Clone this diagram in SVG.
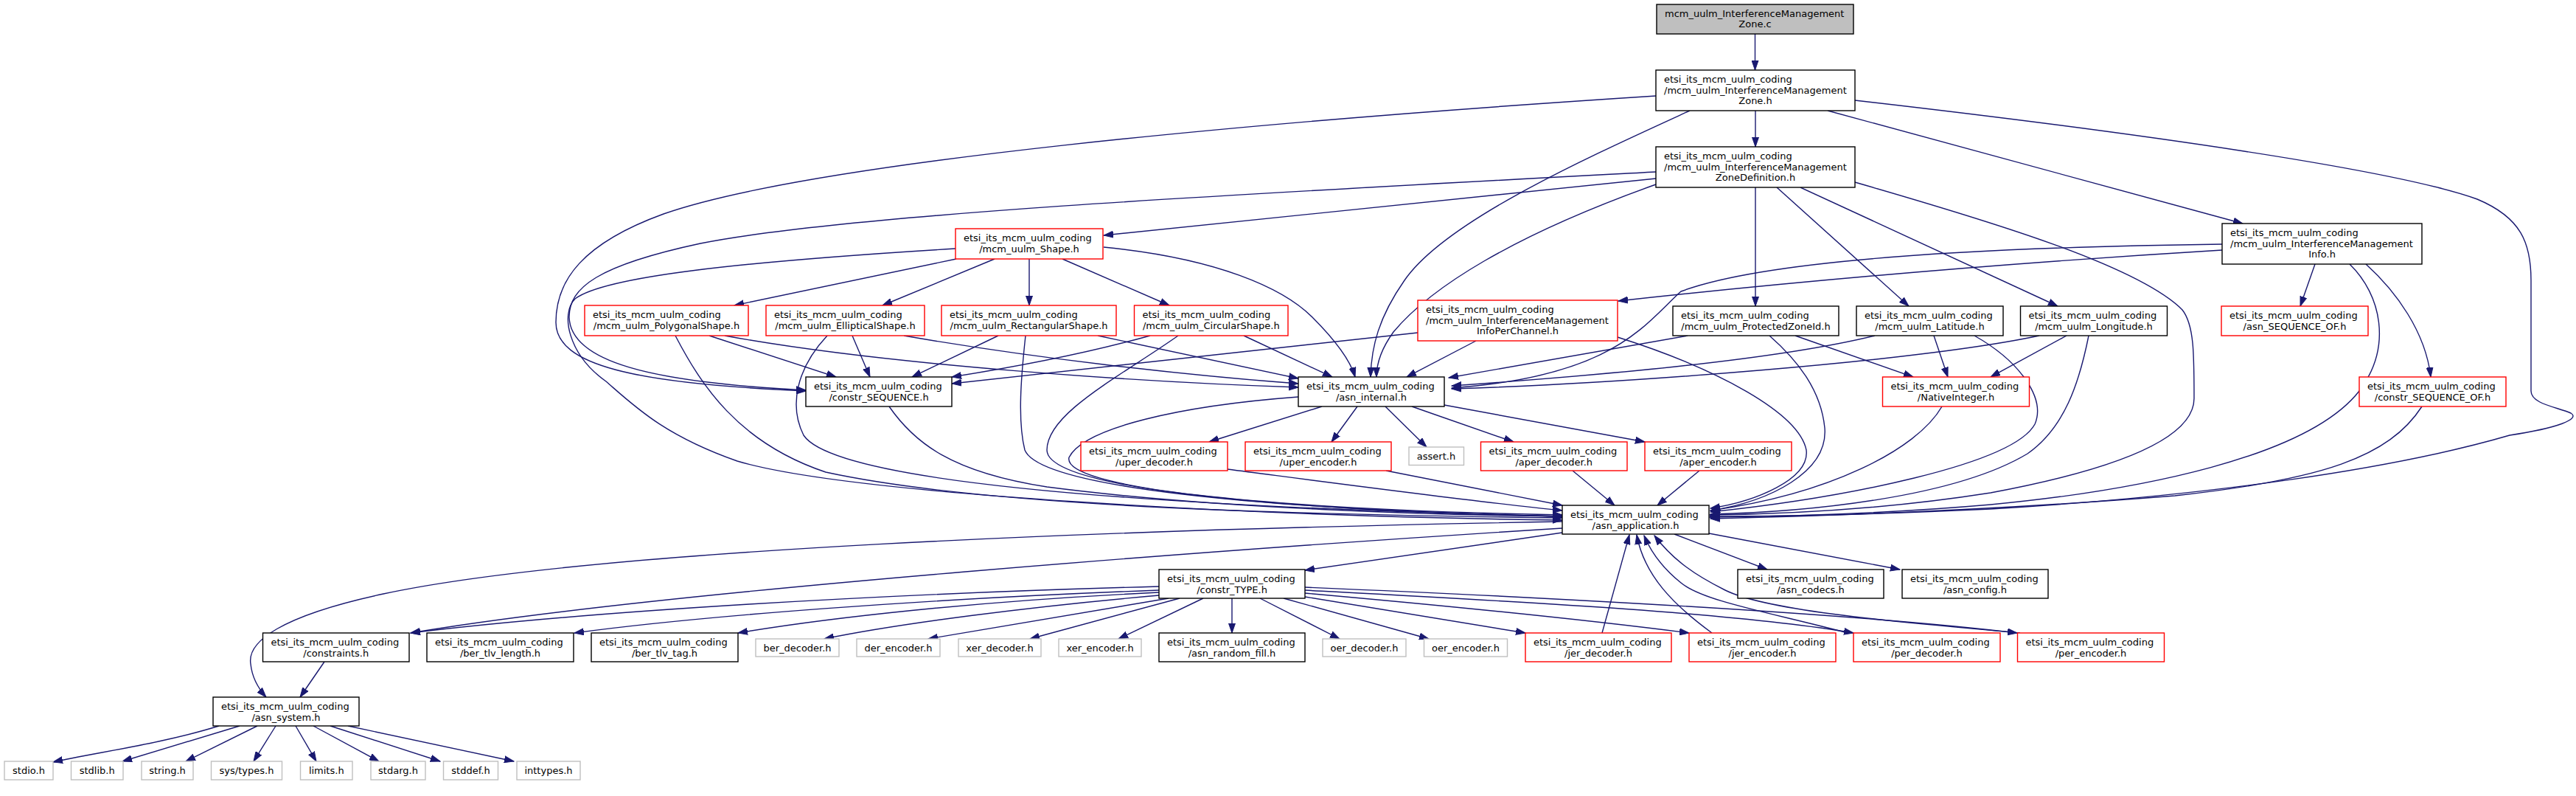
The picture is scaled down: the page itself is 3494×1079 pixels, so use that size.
<svg xmlns="http://www.w3.org/2000/svg" width="3494" height="1079" viewBox="0 0 3494 1079">
<style>
rect{fill:#ffffff;stroke:#000000;stroke-width:1.4}
rect.r{stroke:#ff0000}
rect.g{stroke:#bfbfbf}
rect.top{fill:#bfbfbf}
text{font-family:"DejaVu Sans","Liberation Sans",sans-serif;font-size:13px;fill:#000000}
text.c{text-anchor:middle}
#edges path{fill:none;stroke:#191970;stroke-width:1.4;marker-end:url(#a)}
</style>
<defs>
<marker id="a" markerWidth="14" markerHeight="10" refX="13" refY="5" orient="auto" markerUnits="userSpaceOnUse"><path d="M0,0.5 L13,5 L0,9.5 z" fill="#191970" stroke="#191970" stroke-width="1"/></marker>
</defs>
<rect x="0" y="0" width="3494" height="1079" style="fill:#ffffff;stroke:none"/>
<g id="edges">
<path d="M2380.5,46 L2380.5,95"/>
<path d="M2381,150 L2381,199"/>
<path d="M2479,150 L3042,303"/>
<path d="M2516,136 C2900,180 3250,230 3360,270 C3420,295 3433,330 3433,380 L3433,530 C3433,548 3470,552 3487,560 C3500,568 3470,580 3404,590 C3250,635 3000,672 2700,690 C2550,697 2400,700 2319,700"/>
<path d="M2292,150 C2150,215 1960,300 1905,380 C1870,430 1860,470 1859,511"/>
<path d="M2246,130 C1700,165 1100,220 900,290 C790,330 754,380 754,437 C754,495 860,520 1093,530"/>
<path d="M2246,233 C1700,262 1150,290 950,330 C810,360 772,390 772,430 C774,490 880,518 1093,529"/>
<path d="M2246,242 L1497,319"/>
<path d="M2246,250 C2050,320 1940,390 1890,450 C1872,475 1867,495 1867,511"/>
<path d="M2381,254 L2381,415"/>
<path d="M2410,254 L2589,415"/>
<path d="M2442,254 L2791,415"/>
<path d="M2516,247 C2700,300 2900,360 2960,420 C2976,440 2976,480 2976,540 C2976,600 2850,640 2700,668 C2560,690 2420,697 2319,698"/>
<path d="M3014,331 C2700,335 2400,350 2280,395 C2230,440 2190,510 1969,526"/>
<path d="M3014,339 C2750,355 2450,380 2195,408"/>
<path d="M3140,358 L3120,415"/>
<path d="M3209,358 C3250,395 3290,450 3297,511"/>
<path d="M3187,358 C3230,400 3245,470 3200,530 C3130,620 2900,665 2700,684 C2550,697 2420,700 2319,701"/>
<path d="M1297,351 L996,414"/>
<path d="M1349,351 L1197,414"/>
<path d="M1396,351 L1396,414"/>
<path d="M1441,351 L1586,414"/>
<path d="M1497,335 C1650,350 1740,390 1780,430 C1815,465 1832,490 1838,511"/>
<path d="M1296,337 C1000,355 820,375 780,405 C760,425 770,480 822,517 C860,550 900,590 1000,625 C1150,670 1700,700 2119,705"/>
<path d="M962,455 L1134,511"/>
<path d="M983,455 C1200,495 1550,518 1761,525"/>
<path d="M916,455 C950,520 1000,600 1120,640 C1350,690 1800,698 2119,702"/>
<path d="M1156,455 L1180,511"/>
<path d="M1226,455 C1400,485 1600,508 1761,520"/>
<path d="M1122,455 C1080,500 1070,550 1090,590 C1130,650 1500,685 2119,700"/>
<path d="M1354,455 L1237,511"/>
<path d="M1489,455 L1761,513"/>
<path d="M1391,455 C1385,510 1380,570 1390,610 C1410,660 1700,690 2119,700"/>
<path d="M1560,455 C1470,480 1380,497 1291,511"/>
<path d="M1687,455 L1807,511"/>
<path d="M1598,455 C1520,510 1420,560 1420,610 C1420,660 1700,690 2119,700"/>
<path d="M1923,451 C1700,475 1450,503 1291,520"/>
<path d="M2002,462 L1908,511"/>
<path d="M2194,457 C2330,500 2440,560 2450,610 C2455,650 2380,680 2320,689"/>
<path d="M2289,455 L1965,512"/>
<path d="M2435,455 L2595,511"/>
<path d="M2400,455 C2440,490 2470,530 2475,580 C2480,640 2400,680 2320,692"/>
<path d="M2543,455 C2400,490 2150,510 1969,523"/>
<path d="M2623,455 L2642,511"/>
<path d="M2678,455 C2740,490 2775,540 2760,575 C2730,630 2500,675 2320,694"/>
<path d="M2766,455 C2600,490 2200,520 1969,527"/>
<path d="M2803,455 L2700,511"/>
<path d="M2833,455 C2820,520 2800,580 2750,615 C2650,675 2450,694 2320,697"/>
<path d="M2634,551 C2600,610 2480,670 2320,692"/>
<path d="M3285,551 C3240,620 3150,650 2950,672 C2700,692 2450,700 2320,703"/>
<path d="M1206,551 C1240,600 1290,640 1420,660 C1650,690 1950,698 2119,700"/>
<path d="M1793,551 L1640,599"/>
<path d="M1841,551 L1806,599"/>
<path d="M1879,551 L1935,606"/>
<path d="M1915,551 L2053,599"/>
<path d="M1959,549 L2231,599"/>
<path d="M1761,538 C1600,550 1470,580 1450,620 C1440,660 1700,690 2119,698"/>
<path d="M1665,636 C1850,660 2000,680 2119,692"/>
<path d="M1880,638 L2119,685"/>
<path d="M2133,638 L2190,685"/>
<path d="M2305,638 L2248,685"/>
<path d="M2119,722 L1770,773"/>
<path d="M2271,724 L2397,772"/>
<path d="M2318,723 L2577,772"/>
<path d="M2119,707 C1500,718 800,745 520,805 C380,835 335,870 340,900 C342,920 352,935 361,945"/>
<path d="M2119,716 C1700,742 900,800 557,858"/>
<path d="M1572,795 C1200,805 800,828 557,858"/>
<path d="M1572,800 C1250,812 950,835 779,858"/>
<path d="M1572,803 C1320,815 1120,838 1001,858"/>
<path d="M1572,807 C1400,822 1220,845 1118,866"/>
<path d="M1585,811 L1259,866"/>
<path d="M1600,811 L1397,866"/>
<path d="M1632,811 L1517,866"/>
<path d="M1671,811 L1671,858"/>
<path d="M1709,811 L1817,866"/>
<path d="M1741,811 L1938,866"/>
<path d="M1770,809 L2069,858"/>
<path d="M1770,804 C1950,820 2150,840 2291,858"/>
<path d="M1770,800 C2050,815 2350,830 2514,858"/>
<path d="M1770,796 C2100,810 2500,830 2736,858"/>
<path d="M2173,858 L2210,725"/>
<path d="M2322,858 C2270,820 2230,780 2220,725"/>
<path d="M2506,858 C2400,830 2310,815 2280,790 C2255,770 2240,750 2230,726"/>
<path d="M2740,858 C2600,845 2400,830 2340,800 C2300,780 2270,760 2244,726"/>
<path d="M440,897 L407,945"/>
<path d="M297,984 C220,1008 130,1020 72,1033"/>
<path d="M325,984 L166,1032"/>
<path d="M349,984 L252,1032"/>
<path d="M374,984 L344,1032"/>
<path d="M401,984 L429,1032"/>
<path d="M425,984 L514,1032"/>
<path d="M448,984 L597,1032"/>
<path d="M472,984 L697,1032"/>
</g>
<g id="n1"><rect class="top" x="2247" y="6" width="267" height="40"/><text x="2258" y="22.5">mcm_uulm_InterferenceManagement</text><text class="c" x="2380.5" y="37">Zone.c</text></g>
<g id="n2"><rect x="2246" y="95" width="270" height="55"/><text x="2257" y="112">etsi_its_mcm_uulm_coding</text><text x="2257" y="126.5">/mcm_uulm_InterferenceManagement</text><text class="c" x="2381" y="141">Zone.h</text></g>
<g id="n3"><rect x="2246" y="199" width="270" height="55"/><text x="2257" y="216">etsi_its_mcm_uulm_coding</text><text x="2257" y="230.5">/mcm_uulm_InterferenceManagement</text><text class="c" x="2381" y="245">ZoneDefinition.h</text></g>
<g id="n4"><rect class="r" x="1296" y="310" width="200" height="41"/><text x="1307" y="327">etsi_its_mcm_uulm_coding</text><text class="c" x="1396" y="341.5">/mcm_uulm_Shape.h</text></g>
<g id="n5"><rect x="3014" y="303" width="271" height="55"/><text x="3025" y="320">etsi_its_mcm_uulm_coding</text><text x="3025" y="334.5">/mcm_uulm_InterferenceManagement</text><text class="c" x="3149.5" y="349">Info.h</text></g>
<g id="n6"><rect class="r" x="793" y="414" width="222" height="41"/><text x="804" y="431">etsi_its_mcm_uulm_coding</text><text class="c" x="904" y="445.5">/mcm_uulm_PolygonalShape.h</text></g>
<g id="n7"><rect class="r" x="1039" y="414" width="215" height="41"/><text x="1050" y="431">etsi_its_mcm_uulm_coding</text><text class="c" x="1146.5" y="445.5">/mcm_uulm_EllipticalShape.h</text></g>
<g id="n8"><rect class="r" x="1277" y="414" width="237" height="41"/><text x="1288" y="431">etsi_its_mcm_uulm_coding</text><text class="c" x="1395.5" y="445.5">/mcm_uulm_RectangularShape.h</text></g>
<g id="n9"><rect class="r" x="1538.5" y="414" width="208.5" height="41"/><text x="1549.5" y="431">etsi_its_mcm_uulm_coding</text><text class="c" x="1642.75" y="445.5">/mcm_uulm_CircularShape.h</text></g>
<g id="n10"><rect class="r" x="1923" y="407" width="271" height="55"/><text x="1934" y="424">etsi_its_mcm_uulm_coding</text><text x="1934" y="438.5">/mcm_uulm_InterferenceManagement</text><text class="c" x="2058.5" y="453">InfoPerChannel.h</text></g>
<g id="n11"><rect x="2269" y="415" width="225" height="40"/><text x="2280" y="432">etsi_its_mcm_uulm_coding</text><text class="c" x="2381.5" y="446.5">/mcm_uulm_ProtectedZoneId.h</text></g>
<g id="n12"><rect x="2518" y="415" width="199" height="40"/><text x="2529" y="432">etsi_its_mcm_uulm_coding</text><text class="c" x="2617.5" y="446.5">/mcm_uulm_Latitude.h</text></g>
<g id="n13"><rect x="2740.5" y="415" width="199" height="40"/><text x="2751.5" y="432">etsi_its_mcm_uulm_coding</text><text class="c" x="2840" y="446.5">/mcm_uulm_Longitude.h</text></g>
<g id="n14"><rect class="r" x="3013" y="415" width="199" height="40"/><text x="3024" y="432">etsi_its_mcm_uulm_coding</text><text class="c" x="3112.5" y="446.5">/asn_SEQUENCE_OF.h</text></g>
<g id="n15"><rect x="1093" y="511" width="198" height="40"/><text x="1104" y="528">etsi_its_mcm_uulm_coding</text><text class="c" x="1192" y="542.5">/constr_SEQUENCE.h</text></g>
<g id="n16"><rect x="1761" y="511" width="198" height="40"/><text x="1772" y="528">etsi_its_mcm_uulm_coding</text><text class="c" x="1860" y="542.5">/asn_internal.h</text></g>
<g id="n17"><rect class="r" x="2553.5" y="511" width="199" height="40"/><text x="2564.5" y="528">etsi_its_mcm_uulm_coding</text><text class="c" x="2653" y="542.5">/NativeInteger.h</text></g>
<g id="n18"><rect class="r" x="3200" y="511" width="199" height="40"/><text x="3211" y="528">etsi_its_mcm_uulm_coding</text><text class="c" x="3299.5" y="542.5">/constr_SEQUENCE_OF.h</text></g>
<g id="n19"><rect class="r" x="1466" y="599" width="199" height="39"/><text x="1477" y="616">etsi_its_mcm_uulm_coding</text><text class="c" x="1565.5" y="630.5">/uper_decoder.h</text></g>
<g id="n20"><rect class="r" x="1689" y="599" width="198" height="39"/><text x="1700" y="616">etsi_its_mcm_uulm_coding</text><text class="c" x="1788" y="630.5">/uper_encoder.h</text></g>
<g id="n21"><rect class="g" x="1911" y="606" width="74.5" height="24.5"/><text class="c" x="1948" y="622.5">assert.h</text></g>
<g id="n22"><rect class="r" x="2008.5" y="599" width="198.5" height="39"/><text x="2019.5" y="616">etsi_its_mcm_uulm_coding</text><text class="c" x="2107.75" y="630.5">/aper_decoder.h</text></g>
<g id="n23"><rect class="r" x="2231" y="599" width="199" height="39"/><text x="2242" y="616">etsi_its_mcm_uulm_coding</text><text class="c" x="2330.5" y="630.5">/aper_encoder.h</text></g>
<g id="n24"><rect x="2119" y="685" width="199" height="39"/><text x="2130" y="702">etsi_its_mcm_uulm_coding</text><text class="c" x="2218.5" y="716.5">/asn_application.h</text></g>
<g id="n25"><rect x="1572" y="772" width="198" height="39"/><text x="1583" y="789">etsi_its_mcm_uulm_coding</text><text class="c" x="1671" y="803.5">/constr_TYPE.h</text></g>
<g id="n26"><rect x="2357" y="772" width="198" height="39"/><text x="2368" y="789">etsi_its_mcm_uulm_coding</text><text class="c" x="2456" y="803.5">/asn_codecs.h</text></g>
<g id="n27"><rect x="2580" y="772" width="198" height="39"/><text x="2591" y="789">etsi_its_mcm_uulm_coding</text><text class="c" x="2679" y="803.5">/asn_config.h</text></g>
<g id="n28"><rect x="356.5" y="858" width="198.5" height="39"/><text x="367.5" y="875">etsi_its_mcm_uulm_coding</text><text class="c" x="455.75" y="889.5">/constraints.h</text></g>
<g id="n29"><rect x="579" y="858" width="199" height="39"/><text x="590" y="875">etsi_its_mcm_uulm_coding</text><text class="c" x="678.5" y="889.5">/ber_tlv_length.h</text></g>
<g id="n30"><rect x="802" y="858" width="199" height="39"/><text x="813" y="875">etsi_its_mcm_uulm_coding</text><text class="c" x="901.5" y="889.5">/ber_tlv_tag.h</text></g>
<g id="n31"><rect class="g" x="1025" y="866" width="113" height="24"/><text class="c" x="1081.5" y="882.5">ber_decoder.h</text></g>
<g id="n32"><rect class="g" x="1162" y="866" width="113" height="24"/><text class="c" x="1218.5" y="882.5">der_encoder.h</text></g>
<g id="n33"><rect class="g" x="1300" y="866" width="112" height="24"/><text class="c" x="1356" y="882.5">xer_decoder.h</text></g>
<g id="n34"><rect class="g" x="1436" y="866" width="112" height="24"/><text class="c" x="1492" y="882.5">xer_encoder.h</text></g>
<g id="n35"><rect x="1572" y="858" width="198" height="39"/><text x="1583" y="875">etsi_its_mcm_uulm_coding</text><text class="c" x="1671" y="889.5">/asn_random_fill.h</text></g>
<g id="n36"><rect class="g" x="1794" y="866" width="113" height="24"/><text class="c" x="1850.5" y="882.5">oer_decoder.h</text></g>
<g id="n37"><rect class="g" x="1931.5" y="866" width="113" height="24"/><text class="c" x="1988" y="882.5">oer_encoder.h</text></g>
<g id="n38"><rect class="r" x="2069" y="858" width="198" height="39"/><text x="2080" y="875">etsi_its_mcm_uulm_coding</text><text class="c" x="2168" y="889.5">/jer_decoder.h</text></g>
<g id="n39"><rect class="r" x="2291" y="858" width="199" height="39"/><text x="2302" y="875">etsi_its_mcm_uulm_coding</text><text class="c" x="2390.5" y="889.5">/jer_encoder.h</text></g>
<g id="n40"><rect class="r" x="2514" y="858" width="199" height="39"/><text x="2525" y="875">etsi_its_mcm_uulm_coding</text><text class="c" x="2613.5" y="889.5">/per_decoder.h</text></g>
<g id="n41"><rect class="r" x="2736.5" y="858" width="199" height="39"/><text x="2747.5" y="875">etsi_its_mcm_uulm_coding</text><text class="c" x="2836" y="889.5">/per_encoder.h</text></g>
<g id="n42"><rect x="289" y="945" width="198" height="39"/><text x="300" y="962">etsi_its_mcm_uulm_coding</text><text class="c" x="388" y="976.5">/asn_system.h</text></g>
<g id="n43"><rect class="g" x="6" y="1032" width="66" height="25"/><text class="c" x="39" y="1049">stdio.h</text></g>
<g id="n44"><rect class="g" x="96.5" y="1032" width="70.5" height="25"/><text class="c" x="131.75" y="1049">stdlib.h</text></g>
<g id="n45"><rect class="g" x="192" y="1032" width="70" height="25"/><text class="c" x="227" y="1049">string.h</text></g>
<g id="n46"><rect class="g" x="286.5" y="1032" width="96" height="25"/><text class="c" x="334.5" y="1049">sys/types.h</text></g>
<g id="n47"><rect class="g" x="407.5" y="1032" width="70.5" height="25"/><text class="c" x="442.75" y="1049">limits.h</text></g>
<g id="n48"><rect class="g" x="503" y="1032" width="74" height="25"/><text class="c" x="540" y="1049">stdarg.h</text></g>
<g id="n49"><rect class="g" x="601.5" y="1032" width="74" height="25"/><text class="c" x="638.5" y="1049">stddef.h</text></g>
<g id="n50"><rect class="g" x="701" y="1032" width="86" height="25"/><text class="c" x="744" y="1049">inttypes.h</text></g>
</svg>
